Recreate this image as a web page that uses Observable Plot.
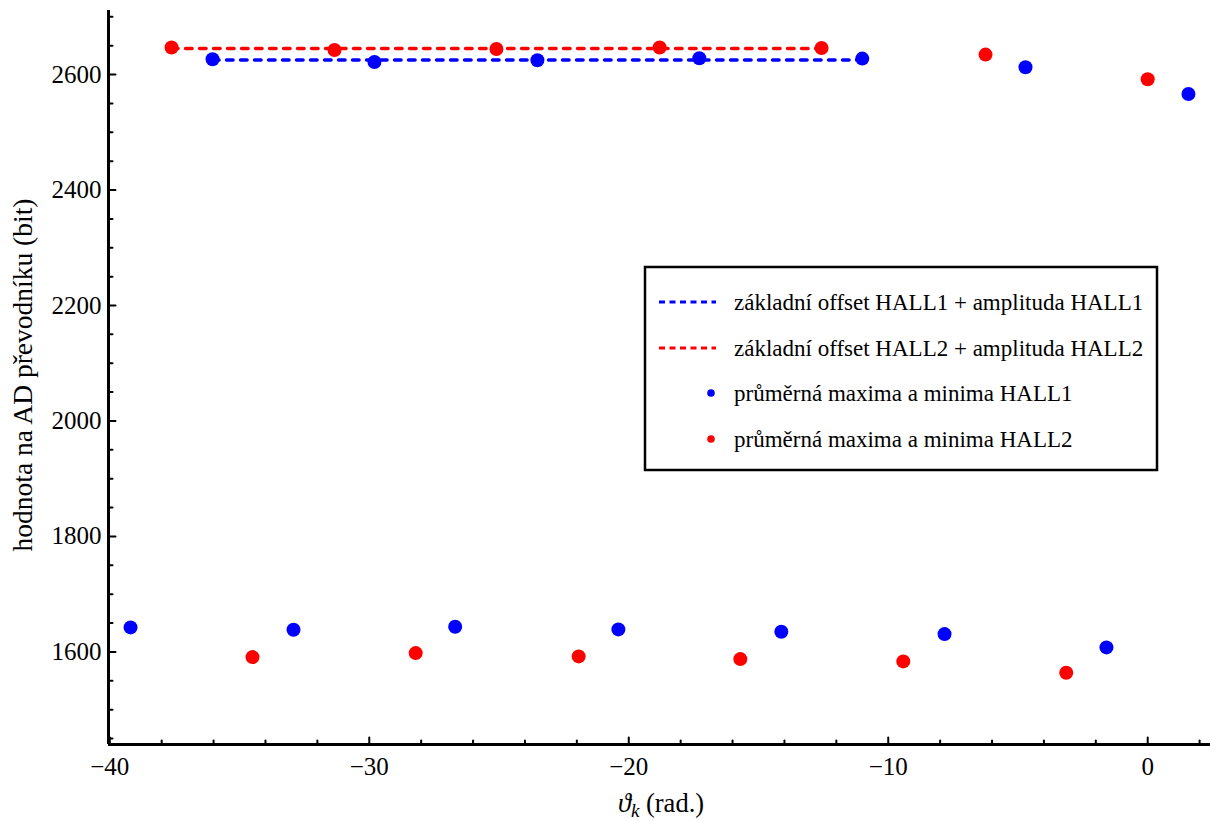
<!DOCTYPE html>
<html>
<head>
<meta charset="utf-8">
<script src="https://cdn.jsdelivr.net/npm/d3@7"></script>
<script src="https://cdn.jsdelivr.net/npm/@observablehq/plot@0.6"></script>
<style>
  html, body { margin: 0; padding: 0; background: white; }
  #chart { position: relative; width: 1212px; height: 821px; }
</style>
</head>
<body>
<div id="chart"></div>
<script>
// ---- data ----
const hall1MaxX = [-36.04, -29.80, -23.52, -17.28, -11.00, -4.71, 1.57];
const hall1MaxY = [2626.5, 2621.8, 2624.8, 2628.2, 2627.7, 2612.6, 2566.4];
const hall1MinX = [-39.20, -32.92, -26.69, -20.40, -14.12, -7.83, -1.59];
const hall1MinY = [1642.4, 1638.3, 1643.5, 1639.0, 1634.8, 1630.8, 1607.8];
const hall2MaxX = [-37.62, -31.34, -25.10, -18.81, -12.57, -6.25, 0];
const hall2MaxY = [2646.8, 2642.6, 2644.4, 2646.8, 2646.1, 2634.6, 2591.9];
const hall2MinX = [-34.50, -28.21, -21.93, -15.70, -9.42, -3.14];
const hall2MinY = [1591.0, 1597.9, 1592.2, 1587.5, 1583.5, 1563.8];

const hall1LineX = [-36.04, -11.00];
const hall1LineY = [2625.3, 2625.3];
const hall2LineX = [-37.62, -12.57];
const hall2LineY = [2645.3, 2645.3];

const xTicks = [-40, -30, -20, -10, 0];
const xMinorTicks = [-38, -36, -34, -32, -28, -26, -24, -22, -18, -16, -14, -12, -8, -6, -4, -2, 2];
const yTicks = [1600, 1800, 2000, 2200, 2400, 2600];
const yMinorTicks = [1450, 1500, 1550, 1650, 1700, 1750, 1850, 1900, 1950, 2050, 2100, 2150, 2250, 2300, 2350, 2450, 2500, 2550, 2650, 2700];

const xDomain = [-40.05, 2.42];
const yDomain = [1439.6, 2711];

const seriesNames = [
  "základní offset HALL1 + amplituda HALL1",
  "základní offset HALL2 + amplituda HALL2",
  "průměrná maxima a minima HALL1",
  "průměrná maxima a minima HALL2"
];
const colors = ["#0000ff", "#ff0000"];
const yLabel = "hodnota na AD převodníku (bit)";

// ---- build tables ----
const zip = (xs, ys) => xs.map((x, i) => ({x, y: ys[i]}));
const hall1Pts = zip(hall1MaxX, hall1MaxY).concat(zip(hall1MinX, hall1MinY));
const hall2Pts = zip(hall2MaxX, hall2MaxY).concat(zip(hall2MinX, hall2MinY));
const hall1Line = zip(hall1LineX, hall1LineY);
const hall2Line = zip(hall2LineX, hall2LineY);

const fmt = d => d < 0 ? "\u2212" + (-d) : String(d);
const tickShape = {draw(ctx, l) { ctx.moveTo(0, 0); ctx.lineTo(0, -l); }};
const FONT = "'Liberation Serif', 'DejaVu Serif', serif";

const plot = Plot.plot({
  width: 1212,
  height: 821,
  marginLeft: 108,
  marginRight: 2,
  marginTop: 10,
  marginBottom: 77,
  style: {fontFamily: FONT, fontSize: "25px", color: "black", background: "white"},
  x: {domain: xDomain},
  y: {domain: yDomain},
  marks: [
    Plot.line(hall2Line, {x: "x", y: "y", stroke: colors[1], strokeWidth: 3.5, strokeDasharray: "6.5,7.5"}),
    Plot.line(hall1Line, {x: "x", y: "y", stroke: colors[0], strokeWidth: 3.5, strokeDasharray: "6.5,7.5"}),
    Plot.dot(hall1Pts, {x: "x", y: "y", r: 7, fill: colors[0], stroke: "none"}),
    Plot.dot(hall2Pts, {x: "x", y: "y", r: 7, fill: colors[1], stroke: "none"}),
    // axes
    Plot.axisX(xTicks, {anchor: "bottom", tickSize: 0, tickPadding: 13, tickFormat: fmt, label: null, fontSize: 25}),
    Plot.axisY(yTicks, {anchor: "left", tickSize: 0, tickPadding: 7, tickFormat: fmt, label: null, fontSize: 25}),
    Plot.vector(xTicks, {x: d => d, frameAnchor: "bottom", length: 7, rotate: 0, anchor: "start", shape: tickShape, stroke: "black", strokeWidth: 2}),
    Plot.vector(xMinorTicks, {x: d => d, frameAnchor: "bottom", length: 4, rotate: 0, anchor: "start", shape: tickShape, stroke: "black", strokeWidth: 2}),
    Plot.vector(yTicks, {y: d => d, frameAnchor: "left", length: 7, rotate: 90, anchor: "start", shape: tickShape, stroke: "black", strokeWidth: 2}),
    Plot.vector(yMinorTicks, {y: d => d, frameAnchor: "left", length: 4, rotate: 90, anchor: "start", shape: tickShape, stroke: "black", strokeWidth: 2}),
    Plot.ruleX([xDomain[0]], {stroke: "black", strokeWidth: 3}),
    Plot.ruleY([yDomain[0]], {stroke: "black", strokeWidth: 3})
  ]
});

document.getElementById("chart").appendChild(plot);

const svg = d3.select(plot);

// y-axis label
svg.append("text")
  .attr("transform", "translate(22,375) rotate(-90)")
  .attr("text-anchor", "middle")
  .attr("dominant-baseline", "central")
  .attr("font-family", FONT)
  .attr("font-size", 27.5)
  .attr("fill", "black")
  .text(yLabel);

// x-axis label
const xl = svg.append("text")
  .attr("x", 661).attr("y", 812)
  .attr("text-anchor", "middle")
  .attr("font-family", FONT)
  .attr("font-size", 26.5)
  .attr("fill", "black");
xl.append("tspan").attr("font-style", "italic").text("\u03D1");
xl.append("tspan").attr("font-style", "italic").attr("font-size", 19).attr("dy", 5).text("k");
xl.append("tspan").attr("dy", -5).text(" (rad.)");

// legend
const lg = svg.append("g").attr("transform", "translate(645,267)");
lg.append("rect").attr("x", 0).attr("y", 0).attr("width", 512).attr("height", 203)
  .attr("fill", "white").attr("stroke", "black").attr("stroke-width", 2.5);
const rowY = [35, 81, 126, 172];
seriesNames.forEach((name, i) => {
  const c = colors[i % 2];
  if (i < 2) {
    lg.append("line").attr("x1", 14).attr("x2", 71).attr("y1", rowY[i]).attr("y2", rowY[i])
      .attr("stroke", c).attr("stroke-width", 3).attr("stroke-dasharray", "6,4.5");
  } else {
    lg.append("circle").attr("cx", 66).attr("cy", rowY[i]).attr("r", 3.8).attr("fill", c);
  }
  lg.append("text").attr("x", 89).attr("y", rowY[i])
    .attr("text-anchor", "start")
    .attr("dominant-baseline", "central")
    .attr("font-family", FONT).attr("font-size", 23).attr("fill", "black")
    .text(name);
});
</script>
</body>
</html>
